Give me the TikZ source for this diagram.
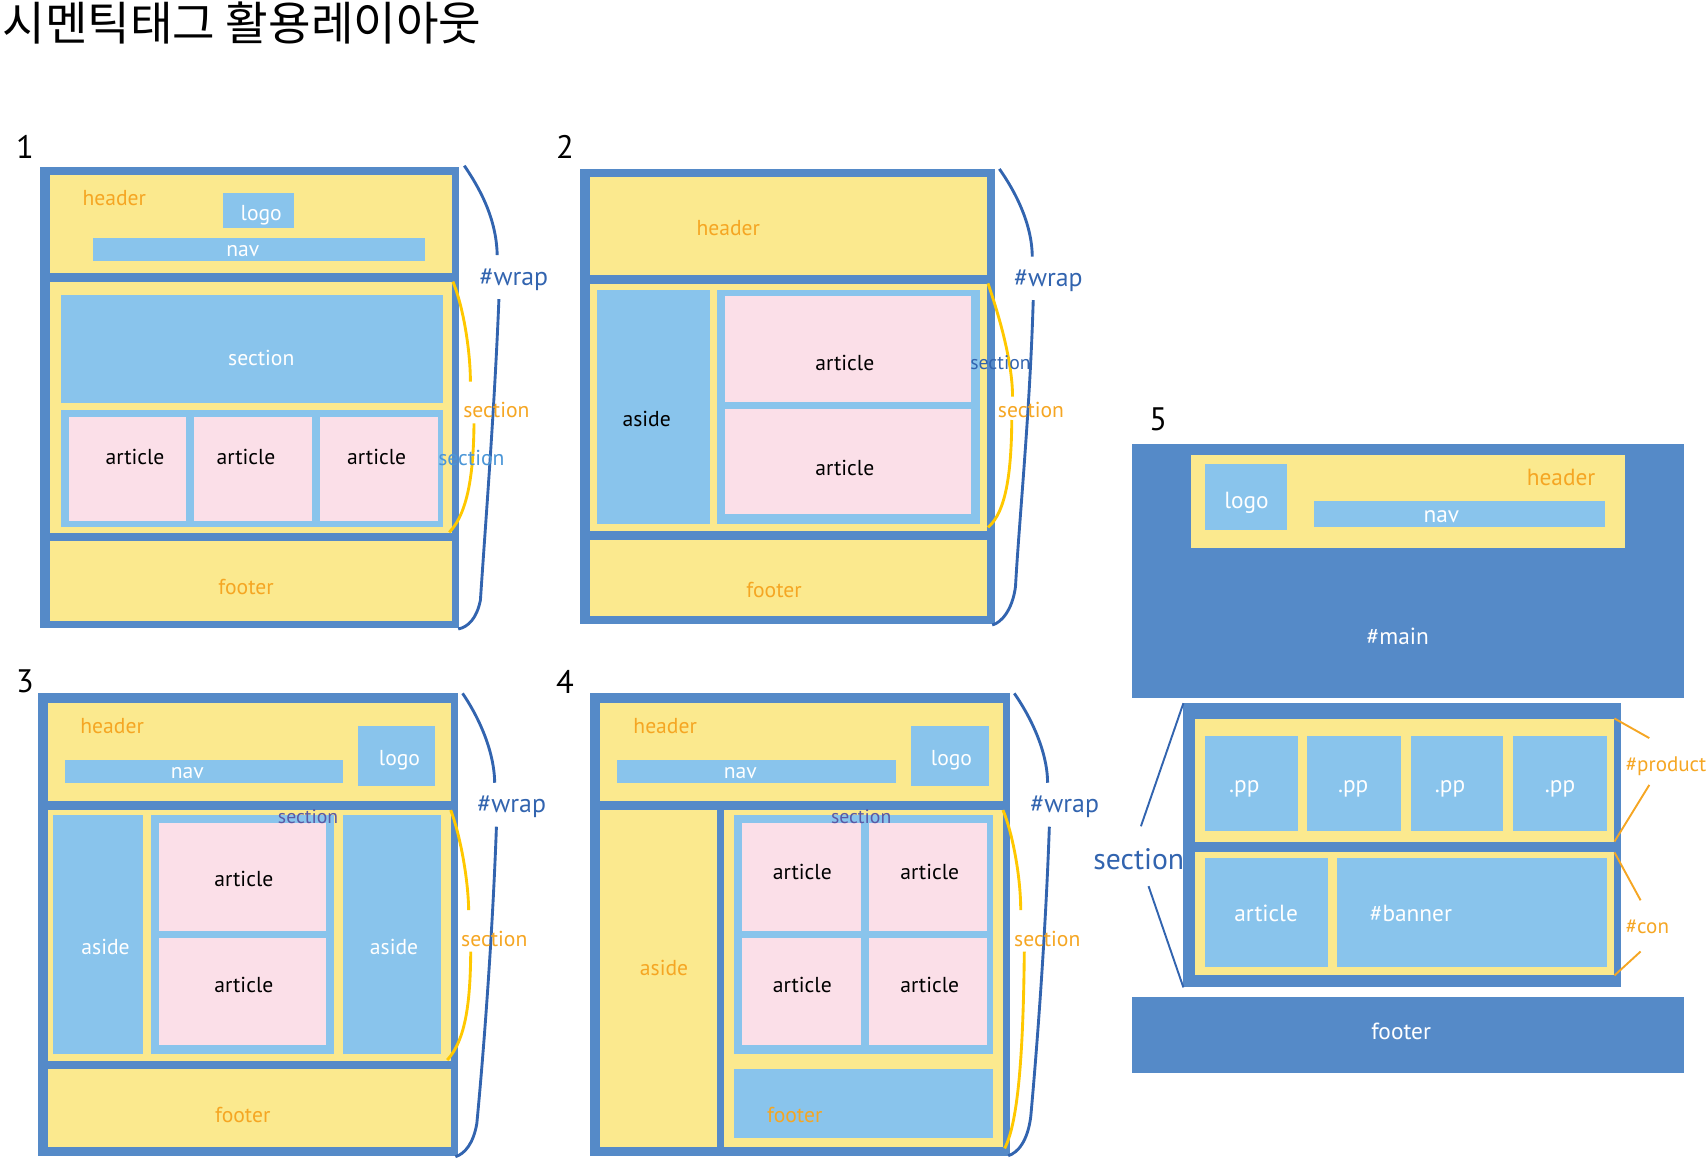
\documentclass[tikz,border=0pt]{standalone}
\usepackage{fontspec}
\setmainfont{PT Sans}
\newfontfamily\cjk{Noto Sans CJK KR}
\usepackage{tikz}
\usetikzlibrary{fit}
\definecolor{wrapblue}{RGB}{85,138,200}
\definecolor{boxyellow}{RGB}{251,233,142}
\definecolor{boxblue}{RGB}{137,196,236}
\definecolor{artpink}{RGB}{251,223,232}
\definecolor{txtorange}{RGB}{245,166,35}
\definecolor{curveyellow}{RGB}{255,200,0}
\definecolor{braceblue}{RGB}{50,100,175}
\definecolor{secblue}{RGB}{75,150,215}
\definecolor{secpurple}{RGB}{90,88,165}

\begin{document}
\begin{tikzpicture}[
        x=0.02cm, y=-0.02cm,
        wrapbox/.style={fill=wrapblue,inner sep=0pt,outer sep=0pt},
        ybox/.style={fill=boxyellow,inner sep=0pt,outer sep=0pt},
        bbox/.style={fill=boxblue,inner sep=0pt,outer sep=0pt},
        artbox/.style={fill=artpink,inner sep=0pt,outer sep=0pt},
        lbl/.style={inner sep=0pt,yshift=-1pt,font=\fontsize{11.3}{13}\selectfont},
        olbl/.style={lbl,text=txtorange},
        wlbl/.style={lbl,text=white},
        klbl/.style={lbl,text=black},
        biglbl/.style={inner sep=0pt,yshift=-1.5pt,font=\fontsize{12.2}{14}\selectfont,text=white},
        num/.style={inner sep=0pt,font=\fontsize{17}{20}\selectfont},
        wrapline/.style={draw=braceblue,line width=1.5pt},
        secline/.style={draw=curveyellow,line width=1.5pt}
      ]
        \useasboundingbox (0,0) rectangle (1568,1064);
        \node[inner sep=0pt,anchor=west,font=\cjk\fontsize{24.2}{26}\selectfont] (title) at (2,21) {시멘틱태그 활용레이아웃};

        % 1
        \node[num] (n1) at (23,135) {1};
        \node[wrapbox,fit={(37,153) (422,577)}] (wrap1) {};
        \node[ybox,fit={(46,161) (415,251)}] (hdr1) {};
        \node[bbox,fit={(205,177) (270,209)}] (logo1) {};
        \node[bbox,fit={(85,219) (390,240)}] (nav1) {};
        \node[ybox,fit={(46,259) (415,490)}] (mid1) {};
        \node[bbox,fit={(56,271) (407,370)}] (sect1) {};
        \node[bbox,fit={(56,377) (407,484)}] (row1) {};
        \node[artbox,fit={(63,383) (171,479)}] (art1a) {};
        \node[artbox,fit={(178,383) (287,479)}] (art1b) {};
        \node[artbox,fit={(294,383) (402,479)}] (art1c) {};
        \node[ybox,fit={(46,497) (415,570)}] (foot1) {};
        \node[olbl] (hdr1t) at (105,180) {header};
        \node[wlbl] (logo1t) at (240,196) {logo};
        \node[wlbl] (nav1t) at (223,229) {nav};
        \node[wlbl] (sect1t) at (240,327) {section};
        \node[klbl] (art1at) at (124,418) {article};
        \node[klbl] (art1bt) at (226,418) {article};
        \node[klbl] (art1ct) at (346,418) {article};
        \node[olbl] (foot1t) at (226,537) {footer};
        \draw[secline] (416,258.7) .. controls (425,280) and (432,320) .. (432.1,350.6);
        \draw[secline] (435.4,388.9) .. controls (435,430) and (431,470) .. (412.7,489);
        \draw[wrapline] (426.5,152.2) .. controls (440,172) and (456,200) .. (456.7,234.3);
        \draw[wrapline] (458.3,274.7) .. controls (454,380) and (446,480) .. (441.3,551.2)
          .. controls (438,568) and (430,576) .. (420.9,577.8);
        \node[olbl] (sec1o) at (456,375) {section};
        \node[lbl,text=secblue] (sec1b) at (433,419) {section};
        \node[lbl,text=braceblue,font=\fontsize{13.5}{15}\selectfont] (wrap1t) at (472,255) {\#wrap};

        % 2
        \node[num] (n2) at (519,135) {2};
        \node[wrapbox,fit={(533,155) (914,573)}] (wrap2) {};
        \node[ybox,fit={(542,163) (907,253)}] (hdr2) {};
        \node[ybox,fit={(542,261) (907,488)}] (mid2) {};
        \node[bbox,fit={(548,266) (652,481)}] (aside2) {};
        \node[bbox,fit={(659,266) (900,481)}] (cont2) {};
        \node[artbox,fit={(666,272) (892,369)}] (art2a) {};
        \node[artbox,fit={(666,376) (892,472)}] (art2b) {};
        \node[ybox,fit={(542,496) (907,566)}] (foot2) {};
        \node[olbl] (hdr2t) at (669,208) {header};
        \node[klbl] (aside2t) at (594,383) {aside};
        \node[klbl] (art2at) at (776,332) {article};
        \node[klbl] (art2bt) at (776,428) {article};
        \node[olbl] (foot2t) at (711,540) {footer};
        \draw[secline] (907.5,260.3) .. controls (916,285) and (930,330) .. (930.1,364.4);
        \draw[secline] (929.4,385.8) .. controls (929,430) and (925,470) .. (907.5,484.4);
        \draw[wrapline] (918,155.2) .. controls (932,175) and (948,205) .. (948.2,235.8);
        \draw[wrapline] (949.1,275.6) .. controls (946,380) and (936,480) .. (932.8,538.9)
          .. controls (930,560) and (920,572) .. (911.4,574.1);
        \node[olbl] (sec2o) at (947,375) {section};
        \node[lbl,text=braceblue,font=\fontsize{10.3}{12}\selectfont] (sec2b) at (919,331) {section};
        \node[lbl,text=braceblue,font=\fontsize{13.5}{15}\selectfont] (wrap2t) at (963,256) {\#wrap};

        % 3
        \node[num] (n3) at (23,626) {3};
        \node[wrapbox,fit={(35,637) (421,1062)}] (wrap3) {};
        \node[ybox,fit={(44,646) (414,736)}] (hdr3) {};
        \node[bbox,fit={(60,698) (315,719)}] (nav3) {};
        \node[bbox,fit={(329,667) (400,722)}] (logo3) {};
        \node[ybox,fit={(44,744) (414,975)}] (mid3) {};
        \node[bbox,fit={(49,749) (131,968)}] (asl3) {};
        \node[bbox,fit={(139,749) (307,968)}] (cont3) {};
        \node[artbox,fit={(146,756) (299,855)}] (art3a) {};
        \node[artbox,fit={(146,862) (299,960)}] (art3b) {};
        \node[bbox,fit={(315,749) (405,968)}] (asr3) {};
        \node[ybox,fit={(44,982) (414,1054)}] (foot3) {};
        \node[olbl] (hdr3t) at (103,665) {header};
        \node[wlbl] (nav3t) at (172,708) {nav};
        \node[wlbl] (logo3t) at (367,697) {logo};
        \node[wlbl] (asl3t) at (97,868) {aside};
        \node[wlbl] (asr3t) at (362,868) {aside};
        \node[klbl] (art3at) at (224,806) {article};
        \node[klbl] (art3bt) at (224,903) {article};
        \node[lbl,text=secpurple,font=\fontsize{10.3}{12}\selectfont] (sec3p) at (283,748) {section};
        \node[olbl] (foot3t) at (223,1022) {footer};
        \draw[secline] (414,744.1) .. controls (422,765) and (430,805) .. (430.5,836);
        \draw[secline] (432.4,874.2) .. controls (432,920) and (428,955) .. (410.8,973.7);
        \draw[wrapline] (424.9,636.9) .. controls (438,656) and (454,688) .. (454.4,719);
        \draw[wrapline] (456,759.4) .. controls (452,870) and (443,980) .. (438,1031.9)
          .. controls (435,1050) and (427,1060) .. (418.3,1062.5);
        \node[olbl] (sec3o) at (454,861) {section};
        \node[lbl,text=braceblue,font=\fontsize{13.5}{15}\selectfont] (wrap3t) at (470,739) {\#wrap};

        % 4
        \node[num] (n4) at (519,626) {4};
        \node[wrapbox,fit={(542,637) (928,1062)}] (wrap4) {};
        \node[ybox,fit={(551,646) (921,736)}] (hdr4) {};
        \node[bbox,fit={(567,698) (823,719)}] (nav4) {};
        \node[bbox,fit={(837,667) (908,722)}] (logo4) {};
        \node[ybox,fit={(551,744) (659,1054)}] (aside4) {};
        \node[ybox,fit={(665,744) (921,1054)}] (mid4) {};
        \node[bbox,fit={(674,749) (912,968)}] (cont4) {};
        \node[artbox,fit={(682,756) (791,855)}] (art4a) {};
        \node[artbox,fit={(798,756) (907,855)}] (art4b) {};
        \node[artbox,fit={(682,862) (791,960)}] (art4c) {};
        \node[artbox,fit={(798,862) (907,960)}] (art4d) {};
        \node[bbox,fit={(674,982) (912,1045)}] (foot4) {};
        \node[olbl] (hdr4t) at (611,665) {header};
        \node[wlbl] (nav4t) at (680,708) {nav};
        \node[wlbl] (logo4t) at (874,697) {logo};
        \node[olbl] (aside4t) at (610,887) {aside};
        \node[klbl] (art4at) at (737,799) {article};
        \node[klbl] (art4bt) at (854,799) {article};
        \node[klbl] (art4ct) at (737,903) {article};
        \node[klbl] (art4dt) at (854,903) {article};
        \node[lbl,text=secpurple,font=\fontsize{10.3}{12}\selectfont] (sec4p) at (791,748) {section};
        \node[olbl] (foot4t) at (730,1022) {footer};
        \draw[secline] (921.3,744.1) .. controls (930,765) and (937.6,805) .. (937.6,836);
        \draw[secline] (940.9,874.2) .. controls (940,960) and (936,1030) .. (922.8,1054.9);
        \draw[wrapline] (931.7,636.9) .. controls (945,656) and (962,688) .. (962.3,719);
        \draw[wrapline] (963.9,759.4) .. controls (960,870) and (951,980) .. (946.8,1025.8)
          .. controls (944,1048) and (935,1059) .. (926.1,1061.6);
        \node[olbl] (sec4o) at (962,861) {section};
        \node[lbl,text=braceblue,font=\fontsize{13.5}{15}\selectfont] (wrap4t) at (978,739) {\#wrap};

        % 5
        \node[num] (n5) at (1064,385) {5};
        \node[wrapbox,fit={(1040,408) (1547,641)}] (main5) {};
        \node[ybox,fit={(1094,418) (1493,503)}] (hdr5) {};
        \node[bbox,fit={(1107,426) (1182,487)}] (logo5) {};
        \node[bbox,fit={(1207,460) (1474,484)}] (nav5) {};
        \node[olbl,font=\fontsize{12.2}{14}\selectfont] (hdr5t) at (1434,437) {header};
        \node[biglbl] (logo5t) at (1145,459) {logo};
        \node[biglbl] (nav5t) at (1324,472) {nav};
        \node[biglbl] (main5t) at (1284,582) {\#main};
        \node[wrapbox,fit={(1087,646) (1489,907)}] (sect5) {};
        \node[ybox,fit={(1098,660) (1483,773)}] (prod5) {};
        \node[bbox,fit={(1107,676) (1192,763)}] (pp5a) {};
        \node[bbox,fit={(1201,676) (1287,763)}] (pp5b) {};
        \node[bbox,fit={(1296,676) (1381,763)}] (pp5c) {};
        \node[bbox,fit={(1390,676) (1476,763)}] (pp5d) {};
        \node[ybox,fit={(1098,783) (1483,896)}] (con5) {};
        \node[bbox,fit={(1107,788) (1220,888)}] (art5) {};
        \node[bbox,fit={(1228,788) (1476,888)}] (ban5) {};
        \node[wrapbox,fit={(1040,916) (1547,986)}] (foot5) {};
        \node[biglbl] (pp5at) at (1143,722) {.pp};
        \node[biglbl] (pp5bt) at (1243,722) {.pp};
        \node[biglbl] (pp5ct) at (1332,722) {.pp};
        \node[biglbl] (pp5dt) at (1433,722) {.pp};
        \node[biglbl] (art5t) at (1163,836) {article};
        \node[biglbl] (ban5t) at (1296,836) {\#banner};
        \node[biglbl] (foot5t) at (1287,945) {footer};
        \node[inner sep=0pt,text=braceblue,font=\fontsize{15.5}{17}\selectfont] (sec5t) at (1046,789) {section};
        \node[inner sep=0pt,anchor=west,text=txtorange,font=\fontsize{11}{13}\selectfont] (prod5t) at (1493,704) {\#product};
        \node[inner sep=0pt,anchor=west,text=txtorange,font=\fontsize{11}{13}\selectfont] (con5t) at (1493,851) {\#con};
        \coordinate (s5a) at (1048,759);
        \coordinate (s5b) at (1055,814);
        \coordinate (p5a) at (1515,678);
        \coordinate (p5b) at (1515,721);
        \coordinate (c5a) at (1507,827);
        \coordinate (c5b) at (1507,874);
        \draw[braceblue,line width=1pt] (sect5.north west) -- (s5a);
        \draw[braceblue,line width=1pt] (s5b) -- (sect5.south west);
        \draw[txtorange,line width=1pt] (prod5.north east) -- (p5a);
        \draw[txtorange,line width=1pt] (p5b) -- (prod5.south east);
        \draw[txtorange,line width=1pt] (con5.north east) -- (c5a);
        \draw[txtorange,line width=1pt] (c5b) -- (con5.south east);
      \end{tikzpicture}
\end{document}
